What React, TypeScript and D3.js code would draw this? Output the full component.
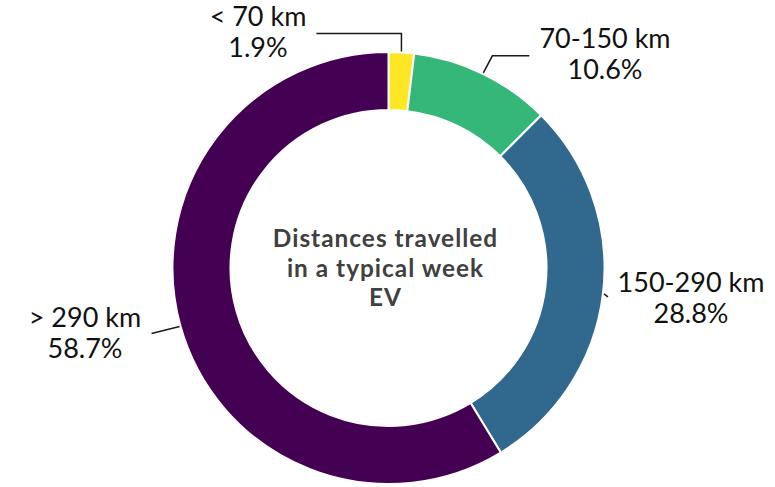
import React from "react";
import * as d3 from "d3";

const categories = ["< 70 km", "70-150 km", "150-290 km", "> 290 km"];
const shares = [1.9, 10.6, 28.8, 58.7];
const colors = ["#fde725", "#35b779", "#31688e", "#440154"];
const titleLines = ["Distances travelled", "in a typical week", "EV"];

const W = 775, H = 487;
const cx = 388.5, cy = 268, R = 216, r = 158;

// leader layout: polyline points relative to the arc anchor, label centre x and first baseline
const leaders = [
  { pts: [[0, -18], [-85, -18]], lx: 258, ly: 26 },
  { pts: [[9, -17], [46, -17]], lx: 605, ly: 48 },
  { pts: [[4, 3]], lx: 691, ly: 292 },
  { pts: [[-28, 7]], lx: 85, ly: 327 },
];

export default function App() {
  const pie = d3.pie<number>().sort(null).value((d) => d);
  const arcs = pie(shares);
  const arcGen = d3.arc<d3.PieArcDatum<number>>().innerRadius(r).outerRadius(R);
  const font = "Lato, 'Open Sans', sans-serif";
  return (
    <svg width={W} height={H} style={{ position: "absolute", left: 0, top: 0 }}>
      <rect width={W} height={H} fill="#fff" />
      <g transform={`translate(${cx},${cy})`}>
        {arcs.map((a, i) => (
          <path key={i} d={arcGen(a) || ""} fill={colors[i]} stroke="#fff" strokeWidth={2} />
        ))}
      </g>
      {arcs.map((a, i) => {
        const m = (a.startAngle + a.endAngle) / 2;
        const ax = cx + (R + 1) * Math.sin(m);
        const ay = cy - (R + 1) * Math.cos(m);
        const L = leaders[i];
        const pts = [[ax, ay], ...L.pts.map((p) => [ax + p[0], ay + p[1]])];
        const line = d3.line()(pts as [number, number][]) || "";
        return (
          <g key={i}>
            <path d={line} fill="none" stroke="#1a1a1a" strokeWidth={1.5} />
            <text x={L.lx} y={L.ly} textAnchor="middle" fontFamily={font} fontSize={27} fill="#111">
              {categories[i]}
            </text>
            <text x={L.lx} y={L.ly + 30.5} textAnchor="middle" fontFamily={font} fontSize={27} fill="#111">
              {shares[i].toFixed(1)}%
            </text>
          </g>
        );
      })}
      {titleLines.map((t, i) => (
        <text
          key={i}
          x={385.5}
          y={247 + i * 29.5}
          textAnchor="middle"
          fontFamily={font}
          fontWeight="bold"
          fontSize={24.4}
          letterSpacing={1}
          fill="#404040"
        >
          {t}
        </text>
      ))}
    </svg>
  );
}
